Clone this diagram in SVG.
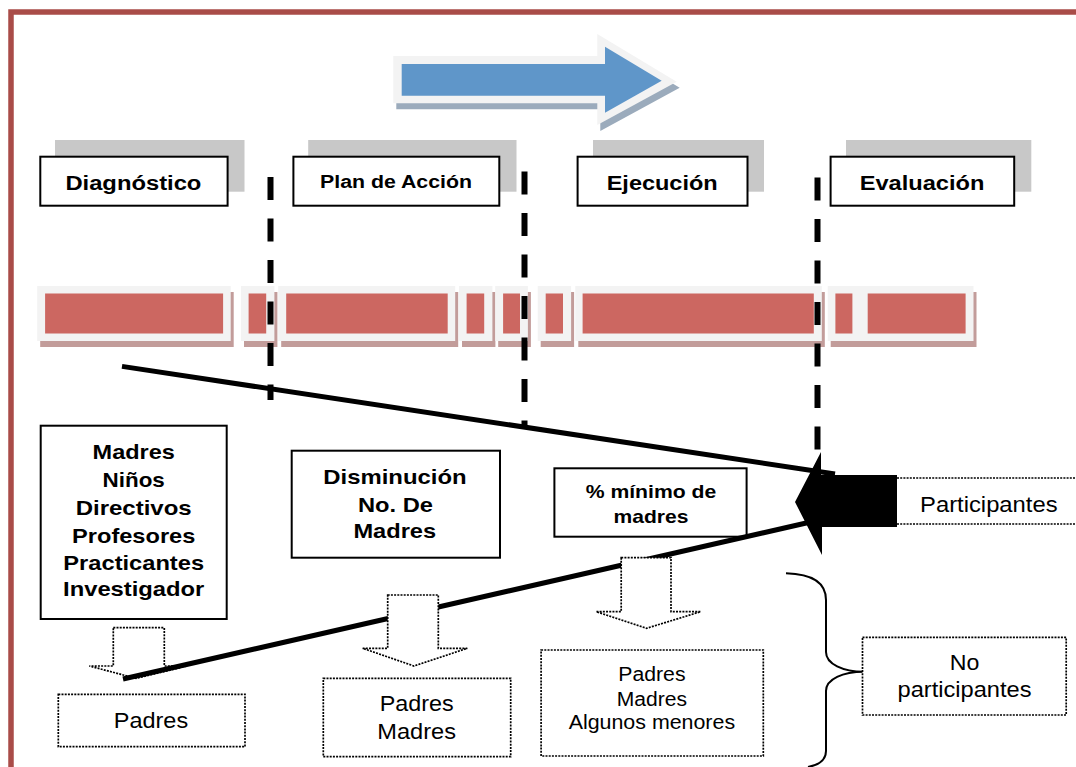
<svg xmlns="http://www.w3.org/2000/svg" width="1076" height="767" viewBox="0 0 1076 767">
<style>
text{font-family:"Liberation Sans",Arial,sans-serif;fill:#000}
.hdr{font-weight:bold;font-size:20px;text-anchor:middle}
.hdr2{font-weight:bold;font-size:18px;text-anchor:middle}
.b21{font-weight:bold;font-size:21px;text-anchor:middle}
.b18{font-weight:bold;font-size:18.5px;text-anchor:middle}
.r21{font-size:21.5px;text-anchor:middle}
.r19{font-size:19.5px;text-anchor:middle}
.hshadow{fill:#c8c8c8}
.hbox{fill:#fff;stroke:#000;stroke-width:2}
.box{fill:#fff;stroke:#000;stroke-width:2}
.dot{fill:#fff;stroke:#000;stroke-width:1.7;stroke-dasharray:2 1.2}
.dotline{fill:none;stroke:#000;stroke-width:1.7;stroke-dasharray:2 1.2}
.bframe{fill:#f3f3f3}
.bshadow{fill:#c29c9a}
.bred{fill:#cc6761}
.dash{stroke:#000;stroke-width:6;stroke-dasharray:23 18.5;fill:none}
.thick{stroke:#000;stroke-width:5;fill:none}
</style>

<g id="border">
<path d="M11,770 L11,12 L1080,12" fill="none" stroke="#a94c48" stroke-width="5.5"/>
</g>

<g id="blue-arrow">
<path d="M396.3,62 L600.3,62 L600.3,40 L679.7,87.7 L600.3,131 L600.3,109.3 L396.3,109.3 Z" fill="#9babbc"/>
<path d="M393.3,56 L597.3,56 L597.3,34 L676.7,81.7 L597.3,125 L597.3,103.3 L393.3,103.3 Z" fill="#f3f3f3"/>
<path d="M401.7,64 L605,64 L605,46.7 L661.7,80.7 L605,112.7 L605,95.7 L401.7,95.7 Z" fill="#5f96c9"/>
</g>

<g id="diagnostico">
<rect class="hshadow" x="55" y="140" width="189.5" height="51.7"/>
<rect class="hbox" x="40.3" y="156.7" width="187.3" height="49"/>
<text class="hdr" x="133.4" y="189.5" textLength="136" lengthAdjust="spacingAndGlyphs">Diagnóstico</text>
</g>
<g id="plan-de-accion">
<rect class="hshadow" x="308.2" y="140" width="208.3" height="51.7"/>
<rect class="hbox" x="293.4" y="156.7" width="205.9" height="49"/>
<text class="hdr2" x="396" y="188" textLength="152" lengthAdjust="spacingAndGlyphs">Plan de Acción</text>
</g>
<g id="ejecucion">
<rect class="hshadow" x="593" y="140" width="171" height="51.7"/>
<rect class="hbox" x="577.6" y="156.7" width="169.9" height="49"/>
<text class="hdr" x="662.2" y="190" textLength="111" lengthAdjust="spacingAndGlyphs">Ejecución</text>
</g>
<g id="evaluacion">
<rect class="hshadow" x="846" y="140" width="185.3" height="51.7"/>
<rect class="hbox" x="830.6" y="156.7" width="183.6" height="49"/>
<text class="hdr" x="922" y="190" textLength="124.7" lengthAdjust="spacingAndGlyphs">Evaluación</text>
</g>

<g id="bars">
<rect class="bshadow" x="40.2" y="292" width="193.5" height="55"/>
<rect class="bframe" x="37.2" y="286" width="193.5" height="55"/>
<rect class="bred" x="45.1" y="293.5" width="178" height="40"/>
<rect class="bshadow" x="244" y="292" width="33.4" height="55"/>
<rect class="bframe" x="241" y="286" width="33.4" height="55"/>
<rect class="bred" x="248.6" y="293.5" width="17.6" height="40"/>
<rect class="bshadow" x="281.2" y="292" width="177" height="55"/>
<rect class="bframe" x="278.2" y="286" width="177" height="55"/>
<rect class="bred" x="286.2" y="293.5" width="161.5" height="40"/>
<rect class="bshadow" x="462" y="292" width="33.4" height="55"/>
<rect class="bframe" x="459" y="286" width="33.4" height="55"/>
<rect class="bred" x="466.6" y="293.5" width="17.6" height="40"/>
<rect class="bshadow" x="498.2" y="292" width="32.7" height="55"/>
<rect class="bframe" x="495.2" y="286" width="32.7" height="55"/>
<rect class="bred" x="503.1" y="293.5" width="16.9" height="40"/>
<rect class="bshadow" x="540.7" y="292" width="33.4" height="55"/>
<rect class="bframe" x="537.7" y="286" width="33.4" height="55"/>
<rect class="bred" x="545.7" y="293.5" width="17.3" height="40"/>
<rect class="bshadow" x="578.3" y="292" width="246.5" height="55"/>
<rect class="bframe" x="575.3" y="286" width="246.5" height="55"/>
<rect class="bred" x="582.6" y="293.5" width="231.2" height="40"/>
<rect class="bshadow" x="830.7" y="292" width="33" height="55"/>
<rect class="bframe" x="827.7" y="286" width="33" height="55"/>
<rect class="bred" x="835.4" y="293.5" width="17" height="40"/>
<rect class="bshadow" x="863" y="292" width="113.5" height="55"/>
<rect class="bframe" x="860" y="286" width="113.5" height="55"/>
<rect class="bred" x="867.7" y="293.5" width="97.9" height="40"/>
</g>

<g id="dividers">
<line class="dash" x1="270.5" y1="177" x2="270.5" y2="400"/>
<line class="dash" x1="524.5" y1="171.5" x2="524.5" y2="427"/>
<line class="dash" x1="817.5" y1="177.5" x2="817.5" y2="452"/>
</g>

<g id="madres-box">
<rect class="box" x="40.7" y="425.7" width="186" height="193.3"/>
<text class="b21" x="133.7" y="459.3" textLength="82.3" lengthAdjust="spacingAndGlyphs">Madres</text>
<text class="b21" x="133.7" y="487.3" textLength="62.3" lengthAdjust="spacingAndGlyphs">Niños</text>
<text class="b21" x="133.7" y="515" textLength="116" lengthAdjust="spacingAndGlyphs">Directivos</text>
<text class="b21" x="133.7" y="542.7" textLength="123.3" lengthAdjust="spacingAndGlyphs">Profesores</text>
<text class="b21" x="133.7" y="570" textLength="140.7" lengthAdjust="spacingAndGlyphs">Practicantes</text>
<text class="b21" x="133.7" y="595.7" textLength="141.3" lengthAdjust="spacingAndGlyphs">Investigador</text>
</g>

<g id="disminucion-box">
<rect class="box" x="291.7" y="450.7" width="208.3" height="107"/>
<text class="b21" x="395" y="484" textLength="143.3" lengthAdjust="spacingAndGlyphs">Disminución</text>
<text class="b21" x="395.5" y="511.7" textLength="75" lengthAdjust="spacingAndGlyphs">No. De</text>
<text class="b21" x="394.8" y="538.3" textLength="82.7" lengthAdjust="spacingAndGlyphs">Madres</text>
</g>

<g id="minimo-box">
<rect class="box" x="554.4" y="468.3" width="192.2" height="68.4"/>
<text class="b18" x="651" y="498.3" textLength="130.6" lengthAdjust="spacingAndGlyphs">% mínimo de</text>
<text class="b18" x="651" y="523.3" textLength="74.9" lengthAdjust="spacingAndGlyphs">madres</text>
</g>

<g id="dotted-arrow-1">
<path class="dot" d="M113.3,627.7 L164.3,627.7 L164.3,666 L186.7,666 L136,678.3 L89.3,666 L113.3,666 Z"/>
</g>

<g id="connectors">
<line class="thick" x1="122" y1="366.4" x2="835" y2="474"/>
<line class="thick" x1="123" y1="679" x2="815" y2="521"/>
</g>

<g id="dotted-arrow-2">
<path class="dot" d="M387.7,595 L438.3,595 L438.3,648.3 L467.3,648.3 L414,666 L362.7,648.3 L387.7,648.3 Z"/>
</g>
<g id="dotted-arrow-3">
<path class="dot" d="M621.2,557.7 L671,557.7 L671,611.7 L700.6,611.7 L646.6,628.3 L596.2,611.7 L621.2,611.7 Z"/>
</g>

<g id="black-arrow">
<path d="M897,475 L821,475 L821,452 L795,502 L822,555 L822,527 L897,527 Z" fill="#000"/>
</g>

<g id="participantes">
<line class="dotline" x1="897" y1="478" x2="1076" y2="478"/>
<line class="dotline" x1="897" y1="524" x2="1076" y2="524"/>
<text class="r21" x="988.8" y="511.7" textLength="137.5" lengthAdjust="spacingAndGlyphs">Participantes</text>
</g>

<g id="padres-box">
<rect class="dot" x="58.3" y="694.3" width="186.7" height="52.4"/>
<text class="r21" x="151" y="727.5" textLength="74.3" lengthAdjust="spacingAndGlyphs">Padres</text>
</g>

<g id="padres-madres-box">
<rect class="dot" x="323.3" y="678.3" width="187.4" height="78.4"/>
<text class="r21" x="416.7" y="710.7" textLength="74" lengthAdjust="spacingAndGlyphs">Padres</text>
<text class="r21" x="416.7" y="739.3" textLength="78.7" lengthAdjust="spacingAndGlyphs">Madres</text>
</g>

<g id="algunos-box">
<rect class="dot" x="541.1" y="650" width="222.2" height="106"/>
<text class="r19" x="651.9" y="680.7" textLength="67.2" lengthAdjust="spacingAndGlyphs">Padres</text>
<text class="r19" x="651.9" y="705.7" textLength="70.3" lengthAdjust="spacingAndGlyphs">Madres</text>
<text class="r19" x="651.9" y="729.3" textLength="166.4" lengthAdjust="spacingAndGlyphs">Algunos menores</text>
</g>

<g id="brace">
<path d="M786,573.3 C812,574 826,583 826,600 L826,652 C826,664 843,671.7 864,671.7 C843,671.7 826,679 826,691 L826,751 C826,760 819,765 808,767" fill="none" stroke="#000" stroke-width="2"/>
</g>

<g id="no-participantes">
<rect class="dot" x="862.5" y="637.3" width="203.7" height="77.7"/>
<text class="r21" x="964.5" y="670" textLength="29.6" lengthAdjust="spacingAndGlyphs">No</text>
<text class="r21" x="964.5" y="697.3" textLength="134" lengthAdjust="spacingAndGlyphs">participantes</text>
</g>
</svg>
